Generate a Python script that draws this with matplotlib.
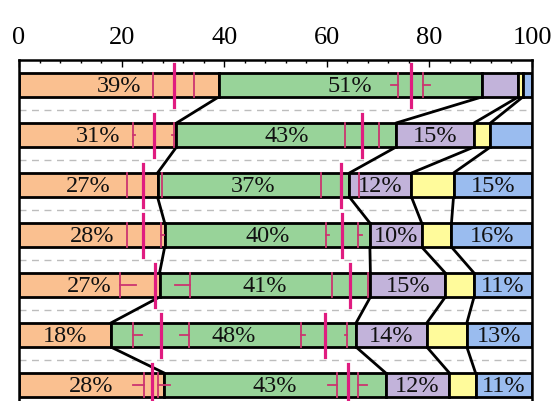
import matplotlib
matplotlib.use("Agg")
import matplotlib.pyplot as plt
import numpy as np
from matplotlib.ticker import MultipleLocator

# Segment shares (%) per row, top to bottom
orange = [38.9, 30.7, 27.0, 28.4, 27.4, 17.9, 28.3]
green  = [51.3, 42.8, 37.4, 40.0, 41.1, 47.8, 43.2]
purple = [7.1, 15.2, 12.1, 10.1, 14.6, 13.8, 12.4]
yellow = [0.9, 3.2, 8.2, 5.8, 5.6, 7.8, 5.1]
blue   = [1.8, 8.1, 15.3, 15.7, 11.3, 12.7, 11.0]

# Interval markers: lo, centre, hi, lo whisker end, hi whisker end
marker_a = [
    (26.2, 30.2, 34.2, 26.2, 34.2),
    (22.2, 26.3, 30.2, 22.7, 29.8),
    (21.0, 24.2, 27.8, 21.0, 27.8),
    (21.0, 24.1, 27.6, 21.0, 28.2),
    (19.6, 26.5, 33.3, 22.8, 30.4),
    (22.3, 27.7, 33.2, 24.0, 31.4),
    (24.4, 26.0, 27.1, 22.2, 29.4),
]
marker_b = [
    (73.9, 76.4, 78.7, 72.6, 80.1),
    (63.5, 66.9, 70.2, 63.5, 70.2),
    (58.9, 62.7, 66.3, 58.9, 66.3),
    (59.8, 62.9, 66.1, 60.4, 66.8),
    (61.0, 64.5, 68.1, 61.0, 68.1),
    (55.0, 59.6, 64.0, 55.8, 63.5),
    (61.9, 64.1, 66.1, 60.3, 67.9),
]

series = [orange, green, purple, yellow, blue]
colors = ["#FAC090", "#98D399", "#C2B3DA", "#FFFB9B", "#9ABCEF"]

plt.rcParams['font.family'] = ['Liberation Serif', 'DejaVu Serif']

fig = plt.figure(figsize=(5.55, 4.01), dpi=100)
ax = fig.add_axes([19/555, 1 - 410/401, 513/555, 350/401])

n = len(orange)
y = np.arange(n)
h = 0.48
data = np.array(series)
cum = np.cumsum(data, axis=0)
left = np.vstack([np.zeros(n), cum[:-1]])

# dashed separators
for k in range(n):
    ax.axhline(k + 0.5, color="#BDBDBD", lw=1.0, ls=(0, (5, 4)), zorder=0)

for s in range(len(series)):
    ax.barh(y, data[s], left=left[s], height=h, color=colors[s],
            edgecolor="black", linewidth=2.0, zorder=2)
    for i in range(n):
        v = data[s][i]
        if v >= 10:
            ax.text(left[s][i] + v / 2, y[i] + 0.03, f"{round(v)}%", ha="center",
                    va="center", fontsize=17.5, zorder=3, color="#111111")

# connecting lines between rows
for i in range(n - 1):
    for s in range(len(series) - 1):
        ax.plot([cum[s][i], cum[s][i + 1]], [y[i] + h / 2, y[i + 1] - h / 2],
                color="black", lw=2.0, zorder=1.5, solid_capstyle="round")

# interval markers
for i in range(n):
    for (lo, c, hi, wl, wh) in (marker_a[i], marker_b[i]):
        ax.plot([lo, lo], [y[i] - h / 2, y[i] + h / 2], color="#CC3570", lw=1.3, zorder=4)
        ax.plot([hi, hi], [y[i] - h / 2, y[i] + h / 2], color="#CC3570", lw=1.3, zorder=4)
        if wl != lo:
            ax.plot([wl, lo], [y[i], y[i]], color="#CC3570", lw=1.3, zorder=4)
        if wh != hi:
            ax.plot([hi, wh], [y[i], y[i]], color="#CC3570", lw=1.3, zorder=4)
        ax.plot([c, c], [y[i] - 0.43, y[i] + 0.43], color="#E01C80", lw=2.3, zorder=5)

ax.set_xlim(0, 100)
ax.set_ylim(n - 0.5, -0.5)
ax.set_yticks([])
ax.xaxis.set_major_locator(MultipleLocator(20))
ax.xaxis.set_minor_locator(MultipleLocator(4))
ax.tick_params(axis="x", which="both", top=True, bottom=False, labeltop=True,
               labelbottom=False, direction="in")
ax.tick_params(axis="x", which="major", length=5, width=1, labelsize=19, pad=8)
ax.tick_params(axis="x", which="minor", length=2.5, width=1)
for sp in ax.spines.values():
    sp.set_linewidth(1.8)

fig.savefig("out.png", dpi=100)
